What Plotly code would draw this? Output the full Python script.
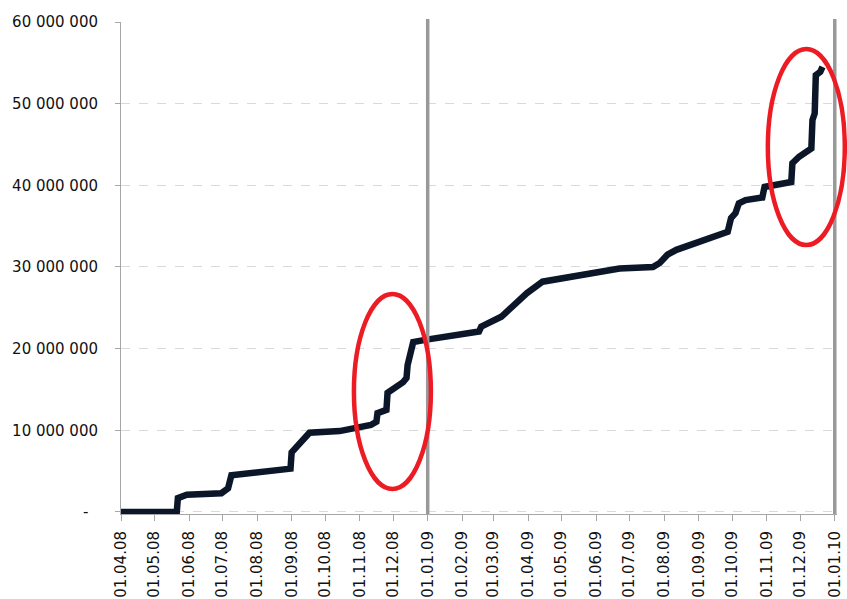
import plotly.graph_objects as go

# ---- data ----
dates = [
    "2008-04-01", "2008-05-21", "2008-05-22", "2008-05-30", "2008-06-30",
    "2008-07-06", "2008-07-09", "2008-08-31", "2008-09-01", "2008-09-17",
    "2008-10-14", "2008-11-11", "2008-11-16", "2008-11-17", "2008-11-25",
    "2008-11-26", "2008-12-10", "2008-12-13", "2008-12-14", "2008-12-19",
    "2008-12-31", "2009-02-02", "2009-02-16", "2009-02-18", "2009-03-08",
    "2009-03-31", "2009-04-14", "2009-06-22", "2009-07-22", "2009-07-28",
    "2009-08-04", "2009-08-12", "2009-09-17", "2009-09-27", "2009-09-30",
    "2009-10-04", "2009-10-07", "2009-10-13", "2009-10-28", "2009-10-30",
    "2009-11-23", "2009-11-24", "2009-11-30", "2009-12-11", "2009-12-12",
    "2009-12-14", "2009-12-15", "2009-12-19", "2009-12-21",
]
values = [
    0, 0, 1.7e6, 2.1e6, 2.3e6,
    2.9e6, 4.5e6, 5.3e6, 7.3e6, 9.7e6,
    9.9e6, 10.65e6, 11.05e6, 12.1e6, 12.5e6,
    14.6e6, 15.9e6, 16.4e6, 18.0e6, 20.8e6,
    21.1e6, 21.7e6, 22.1e6, 22.7e6, 23.9e6,
    26.8e6, 28.2e6, 29.8e6, 30.0e6, 30.5e6,
    31.5e6, 32.1e6, 33.9e6, 34.3e6, 36.0e6,
    36.6e6, 37.8e6, 38.2e6, 38.5e6, 39.8e6,
    40.4e6, 42.7e6, 43.5e6, 44.5e6, 48.0e6,
    48.8e6, 53.5e6, 53.9e6, 54.5e6,
]
y_tickvals = [0, 10e6, 20e6, 30e6, 40e6, 50e6, 60e6]
y_ticktext = ["-\u00a0\u00a0", "10 000 000", "20 000 000", "30 000 000",
              "40 000 000", "50 000 000", "60 000 000"]
year_marks = ["2009-01-01", "2010-01-01"]

FONT = "DejaVu Sans"

fig = go.Figure()
fig.add_trace(go.Scatter(
    x=dates, y=values, mode="lines",
    line=dict(color="#0b1729", width=6.5),
    hoverinfo="x+y", showlegend=False,
))

shapes = []
for d in year_marks:
    shapes.append(dict(type="line", xref="x", yref="paper", x0=d, x1=d,
                       y0=0, y1=1.006, line=dict(color="#999999", width=3.5),
                       layer="above"))

# highlight ellipses (paper coordinates)
for (x0, x1, y0, y1) in [(0.3253, 0.4328, 0.0508, 0.4472),
                         (0.9034, 1.0109, 0.5467, 0.9451)]:
    shapes.append(dict(type="circle", xref="paper", yref="paper",
                       x0=x0, x1=x1, y0=y0, y1=y1,
                       line=dict(color="#ed1c24", width=4.5), layer="above"))

fig.update_layout(
    width=847, height=599,
    margin=dict(l=121, r=10, t=22, b=85, autoexpand=False),
    paper_bgcolor="white", plot_bgcolor="white",
    font=dict(family=FONT, size=15, color="#111111"),
    shapes=shapes,
    xaxis=dict(
        type="date", range=["2008-04-01", "2010-01-03"],
        tick0="2008-04-01", dtick="M1", tickformat="%d.%m.%y",
        tickangle=-90, ticks="outside", ticklen=6, tickcolor="#a6a6a6",
        showgrid=False, showline=True, linecolor="#a6a6a6", linewidth=1,
        zeroline=False, ticklabelstandoff=4, automargin=False,
    ),
    yaxis=dict(
        range=[-250000, 60e6], tickmode="array",
        tickvals=y_tickvals, ticktext=y_ticktext,
        ticks="outside", ticklen=5, tickcolor="#a6a6a6",
        showgrid=True, gridcolor="#d9d9d9", griddash="dash", gridwidth=1,
        showline=True, linecolor="#a6a6a6", linewidth=1, zeroline=False,
        ticklabelstandoff=14, automargin=False,
    ),
)

fig.write_html(
    "out.html",
    config={"displayModeBar": False},
    post_script="document.body.style.margin='0';document.body.style.overflow='hidden';",
)
